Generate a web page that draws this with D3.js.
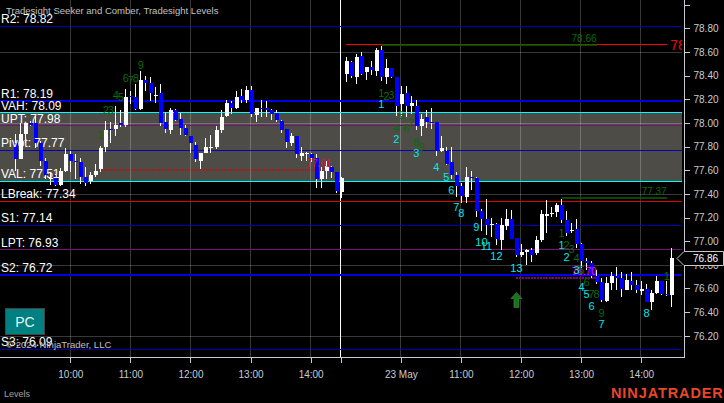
<!DOCTYPE html>
<html lang="en">
<head>
<meta charset="utf-8">
<title>Tradesight Seeker and Comber, Tradesight Levels</title>
<script src="https://d3js.org/d3.v7.min.js"></script>
<style>
  html, body { margin: 0; padding: 0; background: #000; overflow: hidden; }
  svg { display: block; font-family: "Liberation Sans", Arial, sans-serif; }
  .crisp { shape-rendering: crispEdges; }
</style>
</head>
<body>
<div id="chart"></div>
<script>
// 5 minute candles, bar 0 is the first one on the left, bar 66 opens 23 May
const opens = [
  77.83,77.70,77.91,78.00,78.00,77.83,77.68,77.53,77.56,77.48,
  77.60,77.74,77.68,77.67,77.55,77.51,77.56,77.61,77.80,77.95,
  77.95,78.00,77.99,78.23,78.22,78.12,78.37,78.34,78.23,78.26,
  78.01,77.94,78.11,78.04,77.96,77.89,77.82,77.68,77.75,77.80,
  77.80,77.94,78.06,78.17,78.13,78.23,78.20,78.28,78.07,78.13,
  78.13,78.11,78.09,78.02,77.95,77.83,77.89,77.72,77.75,77.74,
  77.71,77.53,77.60,77.63,77.59,77.42,78.42,78.52,78.39,78.57,
  78.43,78.48,78.44,78.62,78.39,78.47,78.39,78.16,78.26,78.15,
  78.15,77.98,78.05,78.01,78.01,77.77,77.77,77.67,77.56,77.47,
  77.38,77.55,77.54,77.26,77.19,77.14,77.15,77.01,77.13,77.19,
  77.03,76.89,76.91,76.93,76.90,77.01,77.22,77.24,77.25,77.31,
  77.18,77.09,77.11,76.98,76.84,76.82,76.71,76.66,76.50,76.65,
  76.71,76.69,76.59,76.67,76.63,76.58,76.60,76.49,76.57,76.67,
  76.56,76.55
];
const highs = [
  77.91,78.00,78.00,78.02,78.06,77.85,77.71,77.58,77.57,77.62,
  77.79,77.77,77.74,77.71,77.63,77.59,77.66,77.81,78.02,78.01,
  78.15,78.11,78.29,78.27,78.33,78.44,78.40,78.39,78.31,78.33,
  78.10,78.13,78.12,78.09,77.99,77.89,77.84,77.75,77.88,77.90,
  77.98,78.11,78.20,78.19,78.27,78.29,78.32,78.32,78.13,78.20,
  78.19,78.12,78.11,78.03,77.95,77.92,77.89,77.80,77.76,77.75,
  77.74,77.63,77.68,77.64,77.59,77.55,78.56,78.53,78.59,78.60,
  78.48,78.53,78.64,78.65,78.54,78.47,78.39,78.32,78.32,78.23,
  78.20,78.08,78.11,78.13,78.01,77.89,77.80,77.80,77.59,77.50,
  77.63,77.60,77.55,77.28,77.36,77.20,77.16,77.20,77.28,77.27,
  77.03,76.98,76.94,76.95,77.05,77.27,77.35,77.29,77.33,77.36,
  77.26,77.16,77.19,76.99,76.86,76.84,76.76,76.69,76.70,76.74,
  76.79,76.74,76.73,76.74,76.68,76.67,76.64,76.59,76.71,76.67,
  76.67,76.95
];
const lows = [
  77.60,77.70,77.83,77.98,77.79,77.64,77.53,77.48,77.47,77.47,
  77.59,77.59,77.53,77.49,77.47,77.49,77.55,77.59,77.76,77.83,
  77.89,77.97,77.97,78.16,78.11,78.11,78.27,78.19,78.17,77.98,
  77.92,77.91,78.02,77.90,77.89,77.75,77.67,77.61,77.75,77.75,
  77.78,77.92,78.05,78.08,78.12,78.17,78.17,78.05,78.01,78.05,
  78.05,78.03,78.01,77.92,77.79,77.81,77.71,77.68,77.68,77.67,
  77.45,77.45,77.53,77.54,77.41,77.37,78.35,78.38,78.33,78.41,
  78.37,78.41,78.40,78.36,78.33,78.38,78.06,78.06,78.05,78.08,
  77.94,77.89,77.96,77.95,77.72,77.76,77.65,77.53,77.38,77.33,
  77.33,77.44,77.21,77.09,77.06,77.04,76.97,76.93,77.10,77.02,
  76.87,76.87,76.80,76.83,76.89,77.00,77.07,77.21,77.21,77.16,
  77.05,77.07,76.95,76.78,76.76,76.69,76.64,76.49,76.49,76.59,
  76.59,76.53,76.59,76.59,76.57,76.55,76.49,76.42,76.56,76.55,
  76.54,76.45
];
const closes = [
  77.70,77.91,78.00,77.99,77.83,77.68,77.56,77.54,77.48,77.60,
  77.74,77.68,77.67,77.55,77.50,77.56,77.60,77.79,77.94,77.94,
  77.99,77.99,78.22,78.22,78.12,78.37,78.34,78.26,78.24,78.00,
  77.95,78.11,78.03,77.96,77.90,77.83,77.70,77.75,77.80,77.80,
  77.94,78.05,78.17,78.13,78.22,78.20,78.28,78.08,78.13,78.12,
  78.11,78.08,78.03,77.94,77.84,77.89,77.74,77.75,77.75,77.71,
  77.53,77.60,77.64,77.59,77.43,77.54,78.53,78.40,78.56,78.42,
  78.48,78.45,78.62,78.39,78.47,78.39,78.15,78.25,78.15,78.17,
  77.98,78.04,78.01,78.00,77.77,77.79,77.66,77.56,77.47,77.39,
  77.55,77.54,77.26,77.19,77.14,77.15,77.02,77.14,77.19,77.02,
  76.89,76.91,76.93,76.89,77.01,77.23,77.23,77.24,77.31,77.18,
  77.07,77.10,76.98,76.84,76.82,76.71,76.66,76.51,76.65,76.71,
  76.69,76.60,76.68,76.63,76.59,76.60,76.49,76.57,76.67,76.56,
  76.55,76.86
];

// Tradesight levels
const levelNames = ["R2","R1","VAH","UPT","Pivot","VAL","LBreak","S1","LPT","S2","S3"];
const levelValues = [78.82,78.19,78.09,77.98,77.77,77.51,77.34,77.14,76.93,76.72,76.09];

// axes
const priceTicks = [76.2,76.4,76.6,76.8,77.0,77.2,77.4,77.6,77.8,78.0,78.2,78.4,78.6,78.8,79.0];
const gridPrices = [76.2,76.8,77.4,78.0,78.6];
const timeBars = [11,23,35,47,59,77,89,101,113,125];
const timeLabels = ["10:00","11:00","12:00","13:00","14:00","23 May","11:00","12:00","13:00","14:00"];
const sessionBar = 65;

// seeker counts (cyan)
const seekerBars = [73,76,80,84,86,87,88,89,92,93,94,96,100,109,110,112,113,114,115,117,126];
const seekerPrices = [78.16,77.87,77.75,77.63,77.55,77.44,77.29,77.24,77.12,77.00,76.96,76.88,76.78,76.97,76.87,76.76,76.62,76.56,76.46,76.30,76.40];
const seekerLabels = ["1","2","3","4","5","6","7","8","9","10","11","12","13","1","2","3","4","5","6","7","8"];

// comber counts (green)
const comberBars = [17,18,19,20,21,22,23,24,25,73,74,75,76,77,78,79,80,81,109,110,111,112,113,114,115,116,117,130];
const comberPrices = [77.90,78.11,78.11,78.24,78.22,78.38,78.37,78.38,78.49,78.26,78.23,78.24,77.96,78.07,77.96,78.00,77.84,77.80,77.07,76.97,76.94,76.86,76.76,76.66,76.56,76.56,76.40,76.71];
const comberLabels = ["1","2","3","4","5","6","7","8","9","1","2","3","4","5","6","7","8","9","1","2","3","4","5","6","7","8","9","1"];

// targets: from bar, to bar, price, label
const targetFrom = [66,73,109,17,100];
const targetTo = [130,116,130,63,116];
const targetPrices = [78.67,78.67,77.37,77.61,76.70];
const targetLabels = ["78.67","78.66","77.37","77.61","76.70"];
const targetKinds = ["red","green","green","darkred","purple"];

const lastClose = closes[closes.length - 1];
const arrowBar = 100;
const arrowPrice = 76.57;

const width = 724;
const height = 403;
const axisX = 684;
const axisY = 357;
const plotRight = 682;

const x = d3.scaleLinear().domain([0, 131]).range([15.7, 671.7]);
const y = d3.scaleLinear().domain([76.2, 79.0]).range([336.3, 5.06]);
const snap = v => Math.floor(v) + 0.5;

const svg = d3.select("#chart").append("svg")
    .attr("width", width)
    .attr("height", height)
    .attr("viewBox", [0, 0, width, height]);

svg.append("defs").append("clipPath").attr("id", "plot")
  .append("rect").attr("width", plotRight).attr("height", axisY);

const plot = svg.append("g").attr("clip-path", "url(#plot)");

// value area between VAH and VAL
const vah = levelValues[levelNames.indexOf("VAH")];
const val = levelValues[levelNames.indexOf("VAL")];
plot.append("rect").attr("class", "crisp")
    .attr("x", 0)
    .attr("width", plotRight)
    .attr("y", Math.floor(y(vah)))
    .attr("height", Math.floor(y(val)) - Math.floor(y(vah)))
    .attr("fill", "#4e4c46");

// grid
plot.append("g").attr("class", "crisp").selectAll("line")
  .data(gridPrices).join("line")
    .attr("x1", 0).attr("x2", axisX)
    .attr("y1", d => snap(y(d))).attr("y2", d => snap(y(d)))
    .attr("stroke", "rgba(255,255,255,0.22)");

plot.append("g").attr("class", "crisp").selectAll("line")
  .data(timeBars).join("line")
    .attr("x1", d => snap(x(d) - 0.7)).attr("x2", d => snap(x(d) - 0.7))
    .attr("y1", 0).attr("y2", axisY)
    .attr("stroke", "rgba(255,255,255,0.22)");

plot.append("line").attr("class", "crisp")
    .attr("x1", snap(x(sessionBar) - 0.7)).attr("x2", snap(x(sessionBar) - 0.7))
    .attr("y1", 0).attr("y2", axisY)
    .attr("stroke", "#fff");

// level lines, R1 and S2 are the heavy ones
const levelColor = d => {
  if (d === "VAH" || d === "VAL") return "#00ffff";
  if (d === "UPT" || d === "LPT") return "#7a107a";
  if (d === "LBreak") return "#e00000";
  return (d === "R1" || d === "S2") ? "#0000e8" : "#0000b4";
};
const levelWidth = d => (d === "R1" || d === "S2") ? 2 : 1;

plot.append("g").attr("class", "crisp").selectAll("line")
  .data(levelNames).join("line")
    .attr("x1", 0).attr("x2", plotRight)
    .attr("y1", (d, i) => snap(y(levelValues[i])))
    .attr("y2", (d, i) => snap(y(levelValues[i])))
    .attr("stroke", levelColor)
    .attr("stroke-width", levelWidth);

// target lines
const targetStroke = {red: "#ff0000", green: "rgba(0,100,0,0.75)", darkred: "#a02020", purple: "#800080"};
plot.append("g").attr("class", "crisp").selectAll("line")
  .data(targetKinds).join("line")
    .attr("x1", (d, i) => x(targetFrom[i]))
    .attr("x2", (d, i) => x(targetTo[i]))
    .attr("y1", (d, i) => snap(y(targetPrices[i])))
    .attr("y2", (d, i) => snap(y(targetPrices[i])))
    .attr("stroke", d => targetStroke[d])
    .attr("stroke-width", d => d === "red" ? 1 : 2)
    .attr("stroke-dasharray", d => (d === "darkred" || d === "purple") ? "2 1" : null);

// candles
const bars = d3.range(opens.length);
const candleColor = i => closes[i] >= opens[i] ? "#fff" : "#0000ff";
const candles = plot.append("g").attr("class", "crisp");

candles.selectAll("line")
  .data(bars).join("line")
    .attr("x1", i => snap(x(i))).attr("x2", i => snap(x(i)))
    .attr("y1", i => y(highs[i])).attr("y2", i => y(lows[i]))
    .attr("stroke", "#fff");

candles.selectAll("rect")
  .data(bars).join("rect")
    .attr("x", i => Math.floor(x(i)) - 1)
    .attr("width", 4)
    .attr("y", i => y(Math.max(opens[i], closes[i])))
    .attr("height", i => Math.max(1, Math.abs(y(opens[i]) - y(closes[i]))))
    .attr("fill", i => candleColor(i));

// target labels
const targetTextColor = {red: "#ff0000", green: "#0a6a0a", darkred: "#e01030", purple: "#ff00ff"};
plot.append("g").selectAll("text")
  .data(targetKinds).join("text")
    .attr("x", (d, i) => i === 0 ? x(targetTo[i]) + 3.5 : x(targetTo[i]))
    .attr("y", (d, i) => snap(y(targetPrices[i])) - (i === 0 ? -5 : 3))
    .attr("text-anchor", (d, i) => i === 0 ? "start" : "end")
    .attr("font-size", (d, i) => i === 0 ? 14 : 10)
    .attr("fill", d => targetTextColor[d])
    .text((d, i) => targetLabels[i]);

// counts
plot.append("g").attr("font-size", 11).attr("fill", "#0a6a0a").attr("text-anchor", "middle")
  .selectAll("text")
  .data(comberBars).join("text")
    .attr("x", d => x(d))
    .attr("y", (d, i) => y(comberPrices[i]))
    .attr("dy", "0.36em")
    .text((d, i) => comberLabels[i]);

plot.append("g").attr("font-size", 11).attr("fill", "#00e8e8").attr("text-anchor", "middle")
  .selectAll("text")
  .data(seekerBars).join("text")
    .attr("x", d => x(d))
    .attr("y", (d, i) => y(seekerPrices[i]))
    .attr("dy", "0.36em")
    .text((d, i) => seekerLabels[i]);

// long entry arrow
plot.append("path")
    .attr("transform", `translate(${x(arrowBar)},${y(arrowPrice)})`)
    .attr("d", "M0,0L5.5,6L2.5,6L2.5,15L-2.5,15L-2.5,6L-5.5,6Z")
    .attr("fill", "#0f7a0f")
    .attr("stroke", "#666")
    .attr("stroke-width", 0.7);

// level labels
svg.append("g").attr("font-size", 12).attr("fill", "#fff")
  .selectAll("text")
  .data(levelNames).join("text")
    .attr("x", 1)
    .attr("y", (d, i) => y(levelValues[i]) - 3.2)
    .text((d, i) => `${d}: ${levelValues[i].toFixed(2)}`);

// axes
const yAxis = d3.axisRight(y)
    .tickValues(priceTicks)
    .tickSize(5)
    .tickPadding(4)
    .offset(0)
    .tickFormat(d => d === 79 ? "" : d.toFixed(2));

const xAxis = d3.axisBottom(x)
    .tickValues(timeBars.concat([sessionBar]))
    .tickSize(5)
    .tickPadding(8)
    .offset(0)
    .tickFormat(d => d === sessionBar ? "" : timeLabels[timeBars.indexOf(d)]);

const axisColor = "#c8ccd0";

svg.append("g").attr("class", "y-axis")
    .attr("transform", `translate(${axisX + 0.5},0)`)
    .call(yAxis)
    .call(g => g.select(".domain").remove());

svg.append("g").attr("class", "x-axis")
    .attr("transform", `translate(0,${axisY + 0.5})`)
    .call(xAxis)
    .call(g => g.select(".domain").remove());

svg.selectAll(".y-axis line, .x-axis line").attr("stroke", axisColor).attr("class", "crisp");
svg.selectAll(".y-axis text, .x-axis text")
    .attr("font-family", "Liberation Sans, Arial, sans-serif")
    .attr("font-size", 10)
    .attr("fill", axisColor);

svg.append("line").attr("class", "crisp")
    .attr("x1", axisX + 0.5).attr("x2", axisX + 0.5)
    .attr("y1", 0).attr("y2", axisY + 1)
    .attr("stroke", axisColor);
svg.append("line").attr("class", "crisp")
    .attr("x1", 0).attr("x2", axisX + 1)
    .attr("y1", axisY + 0.5).attr("y2", axisY + 0.5)
    .attr("stroke", axisColor);

// last price marker
const my = snap(y(lastClose));
svg.append("path")
    .attr("d", `M677,${my}L684,${my - 7}L723.5,${my - 7}L723.5,${my + 7}L684,${my + 7}Z`)
    .attr("fill", "#000")
    .attr("stroke", "#c8c8c8");
svg.append("text")
    .attr("x", 693)
    .attr("y", my)
    .attr("dy", "0.35em")
    .attr("font-size", 10)
    .attr("fill", "#fff")
    .text(lastClose.toFixed(2));

// title, notes
svg.append("text").attr("x", 6).attr("y", 14)
    .attr("font-size", 9.55).attr("fill", "#c0c0c0")
    .text("Tradesight Seeker and Comber, Tradesight Levels");
svg.append("text").attr("x", 6).attr("y", 348)
    .attr("font-size", 9.55).attr("fill", "#c0c0c0")
    .text("© 2024 NinjaTrader, LLC");
svg.append("text").attr("x", 4).attr("y", 397)
    .attr("font-size", 9).attr("fill", "#a0a0a0")
    .text("Levels");

// PC button
svg.append("rect")
    .attr("x", 5.5).attr("y", 308.5)
    .attr("width", 39).attr("height", 26)
    .attr("fill", "#008080")
    .attr("stroke", "#444");
svg.append("text")
    .attr("x", 25).attr("y", 322)
    .attr("dy", "0.35em")
    .attr("text-anchor", "middle")
    .attr("font-size", 14)
    .attr("fill", "#e8f8f8")
    .text("PC");

// logo
svg.append("text")
    .attr("x", 611).attr("y", 398)
    .attr("font-size", 14.5)
    .attr("font-weight", "bold")
    .attr("letter-spacing", 0.9)
    .attr("fill", "#e8472a")
    .text("NINJATRADER");
</script>
</body>
</html>
